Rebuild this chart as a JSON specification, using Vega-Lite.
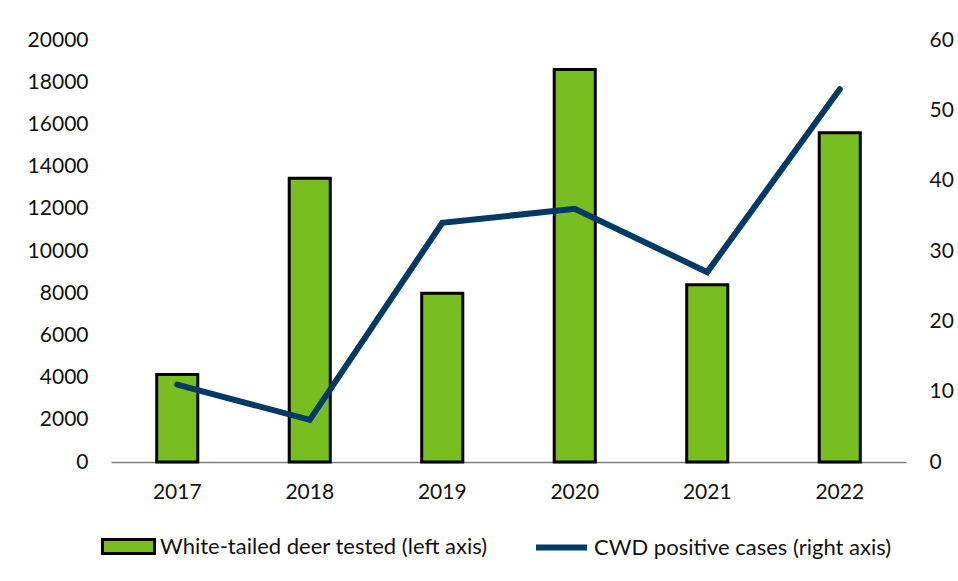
{
  "$schema": "https://vega.github.io/schema/vega-lite/v6.json",
  "autosize": "none",
  "width": 795,
  "height": 422,
  "padding": {"left": 111, "top": 40, "right": 52, "bottom": 119},
  "background": "white",
  "config": {
    "view": {"stroke": null},
    "font": "Lato",
    "axis": {"labelFont": "Lato", "labelFontSize": 21, "labelColor": "#111111", "grid": false, "ticks": false}
  },
  "data": {
    "values": [
      {"year": "2017", "deer": 4150, "cwd": 11},
      {"year": "2018", "deer": 13450, "cwd": 6},
      {"year": "2019", "deer": 8000, "cwd": 34},
      {"year": "2020", "deer": 18600, "cwd": 36},
      {"year": "2021", "deer": 8400, "cwd": 27},
      {"year": "2022", "deer": 15600, "cwd": 53}
    ]
  },
  "encoding": {
    "x": {
      "field": "year", "type": "nominal",
      "scale": {"paddingInner": 0.69, "paddingOuter": 0.345},
      "axis": {"title": null, "labelAngle": 0, "labelPadding": 19, "domainColor": "#7f7f7f", "domainWidth": 1.5}
    }
  },
  "layer": [
    {
      "mark": {"type": "bar", "stroke": "black", "strokeWidth": 3, "strokeJoin": "miter"},
      "encoding": {
        "y": {
          "field": "deer", "type": "quantitative",
          "scale": {"domain": [0, 20000]},
          "axis": {"title": null, "domain": false, "values": [0,2000,4000,6000,8000,10000,12000,14000,16000,18000,20000], "format": "d", "labelPadding": 23}
        },
        "fill": {
          "datum": "White-tailed deer tested (left axis)",
          "scale": {"range": ["#78BE21"]},
          "legend": {
            "title": null, "orient": "none", "legendX": -10, "legendY": 479, "padding": 0,
            "symbolType": "M-1,-0.27L1,-0.27L1,0.27L-1,0.27Z", "symbolSize": 2704,
            "symbolStrokeColor": "black", "symbolStrokeWidth": 3,
            "labelFont": "Lato", "labelFontSize": 22, "labelColor": "#111111", "labelOffset": 4, "labelLimit": 0
          }
        }
      }
    },
    {
      "mark": {"type": "line", "strokeWidth": 6, "strokeCap": "round", "strokeJoin": "miter"},
      "encoding": {
        "y": {
          "field": "cwd", "type": "quantitative",
          "scale": {"domain": [0, 60]},
          "axis": {"title": null, "orient": "right", "domain": false, "values": [0,10,20,30,40,50,60], "labelAlign": "left", "labelPadding": 23}
        },
        "stroke": {
          "datum": "CWD positive cases (right axis)",
          "scale": {"range": ["#023A64"]},
          "legend": {
            "title": null, "orient": "none", "legendX": 422, "legendY": 479, "padding": 0,
            "symbolType": "stroke", "symbolSize": 2601, "symbolStrokeWidth": 6,
            "labelFont": "Lato", "labelFontSize": 22, "labelColor": "#111111", "labelOffset": 4, "labelLimit": 0
          }
        }
      }
    }
  ],
  "resolve": {"scale": {"y": "independent", "fill": "independent", "stroke": "independent"}}
}
